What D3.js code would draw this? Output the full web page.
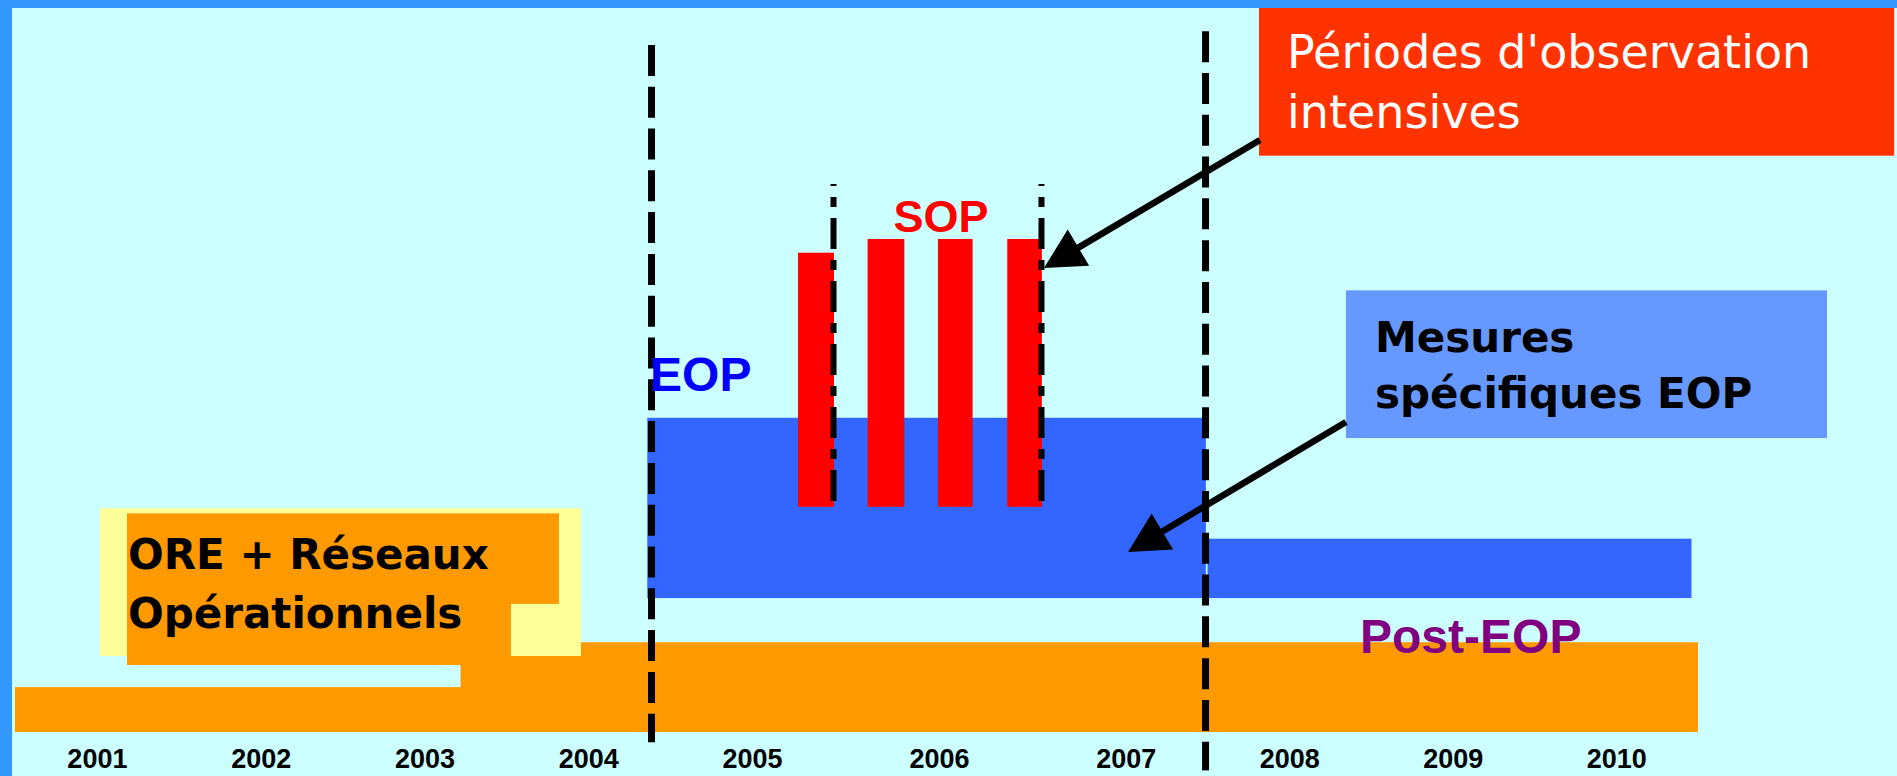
<!DOCTYPE html>
<html>
<head>
<meta charset="utf-8">
<script src="https://cdn.jsdelivr.net/npm/d3@7"></script>
<style>
  body { margin: 0; background: #ccffff; }
  svg { display: block; }
</style>
</head>
<body>
<svg id="chart" width="1897" height="776"></svg>
<script>
// tick labels
var years = [2001, 2002, 2003, 2004, 2005, 2006, 2007, 2008, 2009, 2010];

// long periods (years) and their band (arbitrary levels 0-100)
var phaseNames = ["ORE", "Réseaux", "EOP", "Post-EOP"];
var phaseStart = [2001, 2003.72, 2004.86, 2008.0];
var phaseEnd = [2011, 2011, 2007.99, 2010.96];
var phaseLow = [0, 0, 18.5, 18.5];
var phaseHigh = [6.2, 12.4, 43.4, 26.7];

// SOP bars
var sopStart = [2005.78, 2006.16, 2006.495, 2006.825];
var sopEnd = [2006.0, 2006.335, 2006.66, 2006.99];
var sopHigh = [66.2, 68.1, 68.1, 68.1];
var sopLow = 31.1;

// vertical markers
var eopLimits = [2004.886, 2007.988];
var sopLimits = [2005.997, 2006.988];

var phaseColor = { "ORE": "#ff9900", "Réseaux": "#ff9900", "EOP": "#3366ff", "Post-EOP": "#3366ff" };
var comic = "'Comic Sans MS', 'DejaVu Sans', sans-serif";
var arial = "Arial, 'Liberation Sans', sans-serif";

var svg = d3.select("#chart");

// 2006 is drawn wider than the other years
var x = d3.scaleLinear()
  .domain([2001, 2006, 2007, 2011])
  .range([15, 834, 1044, 1698]);

var y = d3.scaleLinear()
  .domain([0, 100])
  .range([732, 8]);

svg.append("rect").attr("width", 1897).attr("height", 776).attr("fill", "#ccffff");

var g = svg.append("g");

// periods
g.selectAll(".phase")
  .data(phaseNames)
  .enter().append("rect")
  .attr("class", "phase")
  .attr("x", function (d, i) { return x(phaseStart[i]); })
  .attr("width", function (d, i) { return x(phaseEnd[i]) - x(phaseStart[i]); })
  .attr("y", function (d, i) { return y(phaseHigh[i]); })
  .attr("height", function (d, i) { return y(phaseLow[i]) - y(phaseHigh[i]); })
  .attr("fill", function (d) { return phaseColor[d]; });

// ORE text box (yellow frame, orange box, yellow notch)
function box(x0, x1, y0, y1, fill) {
  return g.append("rect")
    .attr("x", x(x0)).attr("width", x(x1) - x(x0))
    .attr("y", y(y1)).attr("height", y(y0) - y(y1))
    .attr("fill", fill);
}
box(2001.519, 2004.455, 10.5, 30.9, "#ffff99");
box(2001.684, 2004.321, 9.25, 30.2, "#ff9900");
box(2004.028, 2004.455, 10.5, 17.7, "#ffff99");

g.append("text")
  .attr("x", x(2001.684) + 1)
  .attr("y", y(30.2) + 56)
  .attr("font-family", comic).attr("font-weight", "bold").attr("font-size", 42)
  .attr("fill", "#000")
  .text("ORE + Réseaux");
g.append("text")
  .attr("x", x(2001.684) + 1)
  .attr("y", y(30.2) + 115)
  .attr("font-family", comic).attr("font-weight", "bold").attr("font-size", 42)
  .attr("fill", "#000")
  .text("Opérationnels");

// SOP bars
g.selectAll(".sop")
  .data(sopStart)
  .enter().append("rect")
  .attr("class", "sop")
  .attr("x", function (d) { return x(d); })
  .attr("width", function (d, i) { return x(sopEnd[i]) - x(d); })
  .attr("y", function (d, i) { return y(sopHigh[i]); })
  .attr("height", function (d, i) { return y(sopLow) - y(sopHigh[i]); })
  .attr("fill", "#ff0000");

// dashed limits
g.selectAll(".eopline")
  .data(eopLimits)
  .enter().append("line")
  .attr("class", "eopline")
  .attr("x1", function (d) { return x(d); })
  .attr("x2", function (d) { return x(d); })
  .attr("y1", function (d, i) { return i === 0 ? y(94.9) : y(96.8); })
  .attr("y2", function (d, i) { return i === 0 ? y(-1.4) : y(-5.3); })
  .attr("stroke", "#000")
  .attr("stroke-width", 7)
  .attr("stroke-dasharray", "31,10.8");

g.selectAll(".sopline")
  .data(sopLimits)
  .enter().append("line")
  .attr("class", "sopline")
  .attr("x1", function (d) { return x(d); })
  .attr("x2", function (d) { return x(d); })
  .attr("y1", y(75.7))
  .attr("y2", y(sopLow))
  .attr("stroke", "#000")
  .attr("stroke-width", 6)
  .attr("stroke-dasharray", "31,11,10,11")
  .attr("stroke-dashoffset", 29);

// labels
g.append("text")
  .attr("x", x(2004.877)).attr("y", y(47.1))
  .attr("font-family", arial).attr("font-weight", "bold").attr("font-size", 48)
  .attr("fill", "#0000ff")
  .text("EOP");

g.append("text")
  .attr("x", x(2006.51)).attr("y", y(69.06))
  .attr("text-anchor", "middle")
  .attr("font-family", arial).attr("font-weight", "bold").attr("font-size", 45)
  .attr("fill", "#ff0000")
  .text("SOP");

g.append("text")
  .attr("x", x(2008.933)).attr("y", y(10.9))
  .attr("font-family", arial).attr("font-weight", "bold").attr("font-size", 48)
  .attr("fill", "#800080")
  .text("Post-EOP");

// callout boxes
box(2008.315, 2012.2, 79.6, 100, "#ff3300");
g.append("text")
  .attr("x", x(2008.315) + 28).attr("y", y(100) + 60)
  .attr("font-family", comic).attr("font-size", 46)
  .attr("fill", "#fff")
  .text("Périodes d'observation");
g.append("text")
  .attr("x", x(2008.315) + 28).attr("y", y(100) + 120)
  .attr("font-family", comic).attr("font-size", 46)
  .attr("fill", "#fff")
  .text("intensives");

box(2008.847, 2011.789, 40.6, 61.0, "#6699ff");
g.append("text")
  .attr("x", x(2008.847) + 29).attr("y", y(61.0) + 62)
  .attr("font-family", comic).attr("font-weight", "bold").attr("font-size", 42)
  .attr("fill", "#000")
  .text("Mesures");
g.append("text")
  .attr("x", x(2008.847) + 29).attr("y", y(61.0) + 118)
  .attr("font-family", comic).attr("font-weight", "bold").attr("font-size", 42)
  .attr("fill", "#000")
  .text("spécifiques EOP");

// arrows
function arrow(a0, b0, a1, b1) {
  var x0 = x(a0), y0 = y(b0), x1 = x(a1), y1 = y(b1);
  var dx = x1 - x0, dy = y1 - y0, len = Math.sqrt(dx * dx + dy * dy);
  var ux = dx / len, uy = dy / len;
  var bx = x1 - ux * 40, by = y1 - uy * 40;
  g.append("line")
    .attr("x1", x0).attr("y1", y0)
    .attr("x2", bx + ux * 4).attr("y2", by + uy * 4)
    .attr("stroke", "#000").attr("stroke-width", 6.5);
  g.append("path")
    .attr("d", "M" + x1 + "," + y1 +
      "L" + (bx - uy * 21) + "," + (by + ux * 21) +
      "L" + (bx + uy * 21) + "," + (by - ux * 21) + "Z")
    .attr("fill", "#000");
}
arrow(2008.321, 81.77, 2007.0, 64.09);
arrow(2008.847, 42.82, 2007.514, 24.86);

// year axis
var axis = svg.append("g")
  .attr("transform", "translate(0," + y(0) + ")")
  .call(d3.axisBottom(x)
    .tickValues(years.map(function (d) { return d + 0.5; }))
    .tickFormat(function (d) { return Math.floor(d); })
    .tickSize(0)
    .tickPadding(17));
axis.select(".domain").remove();
axis.selectAll("text")
  .attr("font-family", arial)
  .attr("font-weight", "bold")
  .attr("font-size", 27)
  .attr("fill", "#000");

// frame
svg.append("rect").attr("width", 1897).attr("height", 8).attr("fill", "#3399ff");
svg.append("rect").attr("width", 12).attr("height", 776).attr("fill", "#3399ff");
</script>
</body>
</html>
